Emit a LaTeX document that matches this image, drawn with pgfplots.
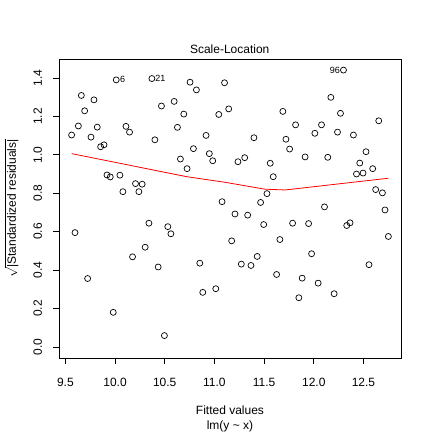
\documentclass[border=0pt,12pt]{standalone}
\usepackage{amsmath}
\usepackage{fontspec}
\setmainfont{Liberation Sans}
\usepackage{pgfplots}
\pgfplotsset{compat=1.18}
\usepackage{pgfplotstable}

% fitted value, sqrt(|standardized residual|)
\pgfplotstableread{
x y
10.012 1.390
10.371 1.397
10.755 1.378
10.819 1.338
11.102 1.375
9.661 1.309
9.788 1.286
9.694 1.229
10.467 1.254
10.595 1.278
10.692 1.212
11.044 1.210
9.631 1.150
9.821 1.144
10.110 1.148
10.146 1.118
9.563 1.103
9.758 1.092
10.628 1.143
10.916 1.101
10.401 1.078
9.855 1.042
9.889 1.052
10.789 1.032
10.949 1.006
10.983 0.969
10.658 0.978
10.725 0.928
9.919 0.895
9.952 0.885
10.049 0.894
10.206 0.850
10.273 0.847
10.079 0.808
10.240 0.808
11.077 0.756
9.597 0.595
10.341 0.644
10.531 0.626
10.562 0.589
10.303 0.519
10.176 0.469
10.434 0.416
10.853 0.436
9.724 0.356
10.883 0.284
11.014 0.303
9.982 0.180
10.497 0.059
12.299 1.441
12.172 1.299
11.144 1.239
11.689 1.226
12.269 1.216
12.654 1.177
11.817 1.156
12.078 1.156
12.011 1.112
12.239 1.118
12.399 1.103
11.398 1.089
11.720 1.081
11.757 1.030
12.526 1.016
11.237 0.964
11.305 0.985
11.562 0.956
11.913 0.989
12.141 0.987
12.463 0.957
11.592 0.886
12.430 0.900
12.496 0.905
12.593 0.928
11.529 0.798
12.623 0.819
12.691 0.802
11.465 0.752
12.108 0.729
12.717 0.713
11.207 0.692
11.335 0.686
11.496 0.637
11.787 0.644
11.948 0.642
12.332 0.632
12.365 0.646
12.751 0.575
11.174 0.552
11.659 0.559
11.978 0.485
11.431 0.471
11.271 0.431
11.368 0.424
12.556 0.428
11.626 0.377
11.883 0.358
12.044 0.332
12.205 0.277
11.850 0.256
}\residuals

% smoother
\pgfplotstableread{
x y
9.563 1.006
10.722 0.886
11.107 0.857
11.509 0.821
11.710 0.817
12.751 0.878
}\smoother

\begin{document}
\begin{tikzpicture}[x=1pt,y=1pt]
\useasboundingbox (-59,-74) rectangle (373,358);
\begin{axis}[
  at={(0,0)}, anchor=south west,
  scale only axis, width=342pt, height=299pt,
  xmin=9.436, xmax=12.878, ymin=-0.0577, ymax=1.4987,
  xtick={9.5,10,10.5,11,11.5,12,12.5},
  ytick={0,0.2,0.4,0.6,0.8,1.0,1.2,1.4},
  tick pos=left, tick align=outside, major tick length=6pt,
  every tick/.style={black, line width=0.8pt},
  axis line style={black, line width=0.8pt},
  tick label style={font=\fontsize{12}{14}\selectfont, inner sep=0pt,
    /pgf/number format/fixed, /pgf/number format/fixed zerofill,
    /pgf/number format/precision=1, /pgf/number format/assume math mode=true},
  xticklabel style={anchor=base, yshift=-22.7pt},
  yticklabel style={xshift=-11pt, rotate=90, anchor=base},
]
\addplot[only marks, mark=o, mark size=3pt, mark options={line width=0.7pt, black}] table {\residuals};
\addplot[red, line width=0.8pt, no marks] table {\smoother};
\node[anchor=west, inner sep=0pt, xshift=3.6pt, font=\fontsize{9}{11}\selectfont] at (axis cs:10.012,1.390) {6};
\node[anchor=west, inner sep=0pt, xshift=3.3pt, font=\fontsize{9}{11}\selectfont] at (axis cs:10.371,1.397) {21};
\node[anchor=east, inner sep=0pt, xshift=-3.3pt, font=\fontsize{9}{11}\selectfont] at (axis cs:12.299,1.441) {96};
\end{axis}
\node[anchor=base, inner sep=0pt] at (170.7,304.7) {Scale-Location};
\node[anchor=base, inner sep=0pt] at (171,-56) {Fitted values};
\node[anchor=base, inner sep=0pt] at (171,-71) {lm(y \textasciitilde{} x)};
\node[rotate=90, anchor=base, inner sep=0pt] at (-43,149.5) {$\sqrt{\vphantom{S}\smash{\mbox{|Standardized residuals|}}}$};
\end{tikzpicture}
\end{document}
